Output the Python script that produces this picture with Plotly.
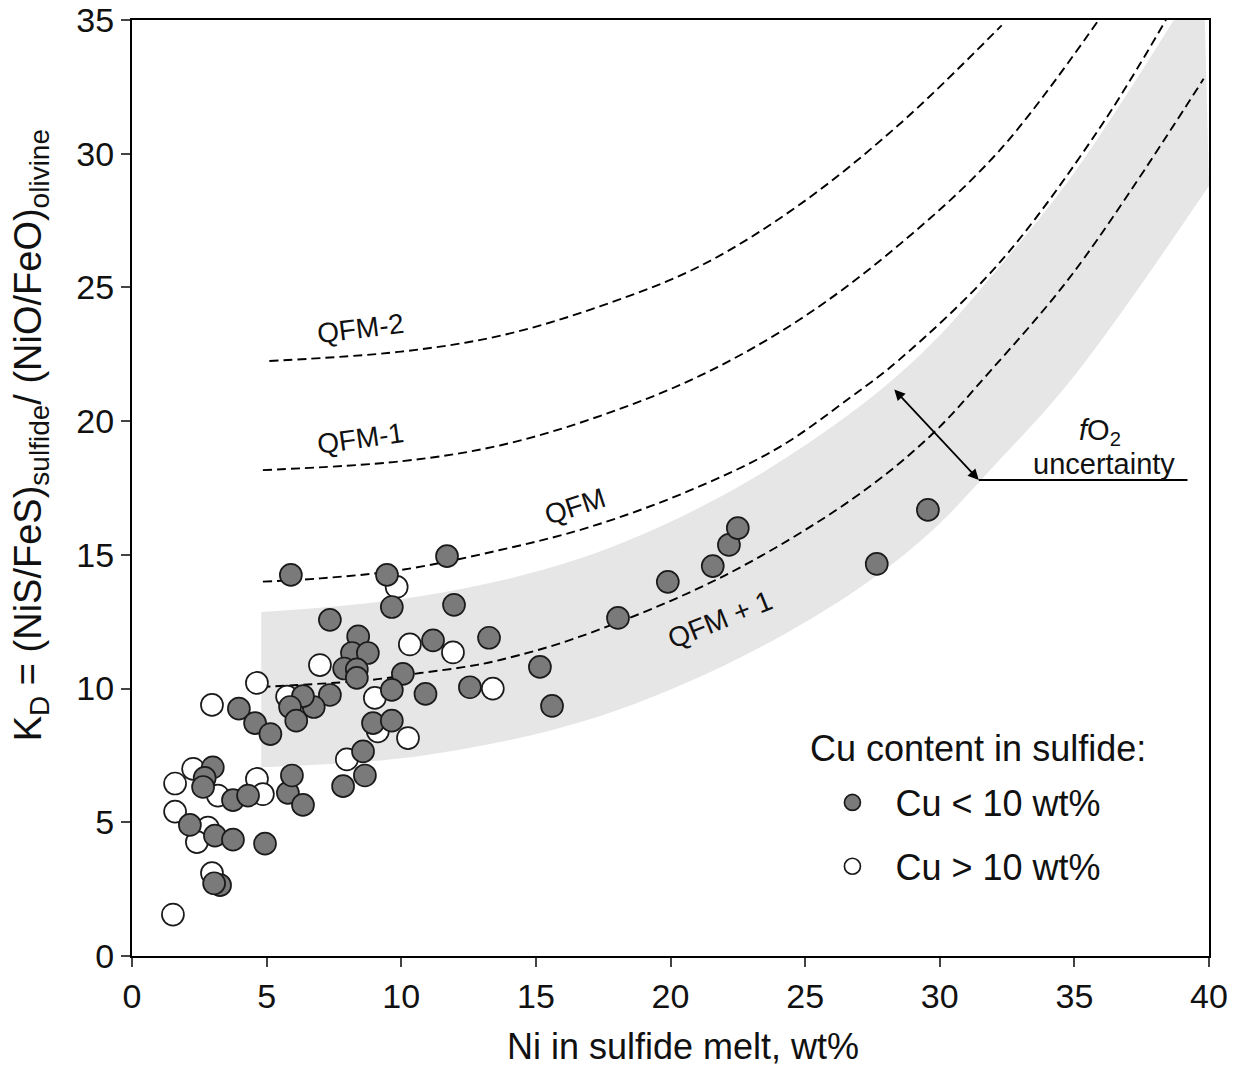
import plotly.graph_objects as go

# ---------------- data ----------------
# Cu < 10 wt% (filled circles)
cu_low_ni = [5.90, 9.47, 11.70, 7.35, 9.65, 11.96, 8.40, 8.17, 8.76, 7.88, 8.35, 8.35,
             10.06, 9.65, 10.90, 7.35, 6.75, 6.35, 5.87, 6.10, 3.97, 4.57, 5.14,
             3.00, 2.70, 2.64, 3.75, 4.31, 5.79, 6.35, 5.94, 2.15, 3.08, 3.75, 4.94,
             3.27, 3.05, 11.18, 13.26, 15.15, 12.55, 15.60, 8.95, 9.65, 8.58, 8.65,
             7.84, 18.05, 19.90, 21.57, 22.17, 22.50, 27.66, 29.56]
cu_low_kd = [14.25, 14.25, 14.95, 12.57, 13.05, 13.13, 11.95, 11.33, 11.33, 10.75, 10.72, 10.40,
             10.55, 9.95, 9.80, 9.76, 9.31, 9.72, 9.31, 8.80, 9.25, 8.71, 8.30,
             7.05, 6.66, 6.32, 5.83, 6.00, 6.10, 5.65, 6.75, 4.90, 4.50, 4.35, 4.20,
             2.65, 2.72, 11.80, 11.90, 10.81, 10.05, 9.35, 8.71, 8.80, 7.65, 6.75,
             6.35, 12.64, 13.99, 14.58, 15.37, 16.00, 14.66, 16.68]

# Cu > 10 wt% (open circles)
cu_high_ni = [4.64, 2.97, 2.27, 1.60, 3.19, 4.64, 4.86, 1.60, 2.82, 2.41, 2.97, 1.52,
              5.76, 6.98, 9.83, 10.32, 11.92, 13.40, 9.02, 9.13, 10.25, 7.98]
cu_high_kd = [10.21, 9.39, 7.00, 6.45, 6.00, 6.62, 6.05, 5.40, 4.80, 4.26, 3.10, 1.55,
              9.70, 10.88, 13.80, 11.65, 11.35, 10.00, 9.65, 8.40, 8.15, 7.35]

# model curves
qfm_m2_ni = [5.1, 10.0, 13.7, 17.4, 21.1, 24.8, 28.5, 32.3]
qfm_m2_kd = [22.25, 22.6, 23.2, 24.3, 25.8, 28.1, 31.1, 34.8]

qfm_m1_ni = [4.86, 10.0, 13.7, 17.4, 21.1, 24.8, 28.5, 32.2, 35.9]
qfm_m1_kd = [18.17, 18.5, 19.1, 20.2, 21.7, 23.8, 26.6, 30.1, 35.0]

qfm_ni = [4.86, 7.0, 9.95, 13.67, 17.0, 20.7, 24.0, 26.7, 28.5, 32.2, 35.9, 38.4]
qfm_kd = [14.0, 14.12, 14.43, 15.18, 16.04, 17.4, 19.0, 20.9, 22.3, 25.9, 30.9, 35.0]

qfm_p1_ni = [4.8, 8.84, 10.7, 12.3, 13.67, 16.6, 21.9, 26.7, 29.6, 31.9, 35.0, 39.8]
qfm_p1_kd = [10.06, 10.32, 10.58, 10.8, 11.07, 11.93, 14.17, 17.05, 19.4, 21.9, 25.6, 32.8]

# fO2 uncertainty band (upper and lower edges)
band_top_ni = [4.8, 10.7, 16.6, 21.9, 26.7, 29.6, 31.9, 35.0, 39.8]
band_top_kd = [12.86, 13.45, 14.85, 17.2, 20.3, 22.8, 25.4, 29.3, 36.8]
band_bot_ni = [4.8, 10.7, 16.6, 21.9, 26.7, 29.6, 31.9, 35.0, 40.0]
band_bot_kd = [7.06, 7.48, 8.73, 10.82, 13.55, 15.8, 18.2, 21.7, 28.8]

x_ticks = [0, 5, 10, 15, 20, 25, 30, 35, 40]
y_ticks = [0, 5, 10, 15, 20, 25, 30, 35]

FONT = "Liberation Sans, Arial, sans-serif"
DASH = "9px,5px"

fig = go.Figure()

# band
fig.add_trace(go.Scatter(x=band_bot_ni, y=band_bot_kd, mode="lines",
                         line=dict(width=0, shape="spline", smoothing=1.0),
                         showlegend=False, hoverinfo="skip"))
fig.add_trace(go.Scatter(x=band_top_ni, y=band_top_kd, mode="lines",
                         line=dict(width=0, shape="spline", smoothing=1.0),
                         fill="tonexty", fillcolor="#e6e6e6", showlegend=False, hoverinfo="skip"))

# curves
for cx, cy in [(qfm_m2_ni, qfm_m2_kd), (qfm_m1_ni, qfm_m1_kd), (qfm_ni, qfm_kd), (qfm_p1_ni, qfm_p1_kd)]:
    fig.add_trace(go.Scatter(x=cx, y=cy, mode="lines",
                             line=dict(color="black", width=1.9, dash=DASH, shape="spline", smoothing=1.0),
                             showlegend=False, hoverinfo="skip"))

# points (open drawn first, filled on top)
fig.add_trace(go.Scatter(x=cu_high_ni, y=cu_high_kd, mode="markers", name="Cu > 10 wt%",
                         legendgroup="b", legendrank=2,
                         marker=dict(size=22, color="white", line=dict(color="#1a1a1a", width=1.7))))
fig.add_trace(go.Scatter(x=cu_low_ni, y=cu_low_kd, mode="markers", name="Cu < 10 wt%",
                         legendgroup="a", legendrank=1,
                         marker=dict(size=22, color="#7a7a7a", line=dict(color="#1a1a1a", width=1.7))))

ann = []
def lab(x, y, t, ang, size=28):
    ann.append(dict(x=x, y=y, xref="x", yref="y", text=t, showarrow=False, textangle=ang,
                    font=dict(family=FONT, size=size, color="#111")))

lab(8.5, 23.45, "QFM-2", -7)
lab(8.5, 19.35, "QFM-1", -8)
lab(16.45, 16.8, "QFM", -18)
lab(21.85, 12.6, "QFM + 1", -22)
lab(35.95, 19.6, "<i>f</i>O<sub>2</sub>", 0, 29)
lab(36.1, 18.4, "uncertainty", 0, 29)

# double-headed arrow
ann.append(dict(x=31.45, y=17.8, ax=28.26, ay=21.24, xref="x", yref="y", axref="x", ayref="y",
                text="", showarrow=True, arrowhead=2, startarrowhead=2, arrowside="end+start",
                arrowsize=1.2, startarrowsize=1.2, arrowwidth=1.8, arrowcolor="black"))

# legend heading
ann.append(dict(x=0.6277, y=0.222, xref="paper", yref="paper", showarrow=False,
                xanchor="left", yanchor="middle", text="Cu content in sulfide:",
                font=dict(family=FONT, size=36, color="#111")))

# axis titles
ann.append(dict(x=0.512, y=-0.097, xref="paper", yref="paper", showarrow=False, yanchor="middle",
                text="Ni in sulfide melt, wt%", font=dict(family=FONT, size=36, color="#111")))
ytitle = ("K<sub><span style='font-size:28px'>D</span></sub> = (NiS/FeS)"
          "<sub><span style='font-size:28px'>sulfide</span></sub>/ (NiO/FeO)"
          "<sub><span style='font-size:28px'>olivine</span></sub>")
ann.append(dict(x=-0.094, y=0.556, xref="paper", yref="paper", showarrow=False, textangle=-90,
                xanchor="center", yanchor="middle",
                text=ytitle, font=dict(family=FONT, size=38, color="#111")))

fig.update_layout(
    width=1234, height=1066,
    margin=dict(l=132, r=25, t=20, b=110, autoexpand=False),
    paper_bgcolor="white", plot_bgcolor="white",
    font=dict(family=FONT, size=34, color="#111"),
    annotations=ann,
    shapes=[dict(type="line", xref="x", yref="y", x0=31.45, x1=39.2, y0=17.8, y1=17.8,
                 line=dict(color="black", width=1.8))],
    showlegend=True,
    legend=dict(x=0.629, y=0.196, xanchor="left", yanchor="top",
                font=dict(family=FONT, size=36, color="#111"), bgcolor="rgba(0,0,0,0)",
                itemsizing="trace", itemwidth=76, tracegroupgap=14, traceorder="grouped"),
    xaxis=dict(range=[0, 40], tickvals=x_ticks, ticks="outside", ticklen=9, tickwidth=1.5,
               showline=True, linecolor="black", linewidth=2, mirror=True, showgrid=False,
               zeroline=False, automargin=False, ticklabeloverflow="allow",
               tickfont=dict(family=FONT, size=34, color="#111")),
    yaxis=dict(range=[0, 35], tickvals=y_ticks, ticks="outside", ticklen=9, tickwidth=1.5,
               showline=True, linecolor="black", linewidth=2, mirror=True, showgrid=False,
               zeroline=False, automargin=False, ticklabeloverflow="allow",
               tickfont=dict(family=FONT, size=34, color="#111")),
)

fig.write_html("out.html", config={"displayModeBar": False},
               post_script="document.body.style.margin='0';")
